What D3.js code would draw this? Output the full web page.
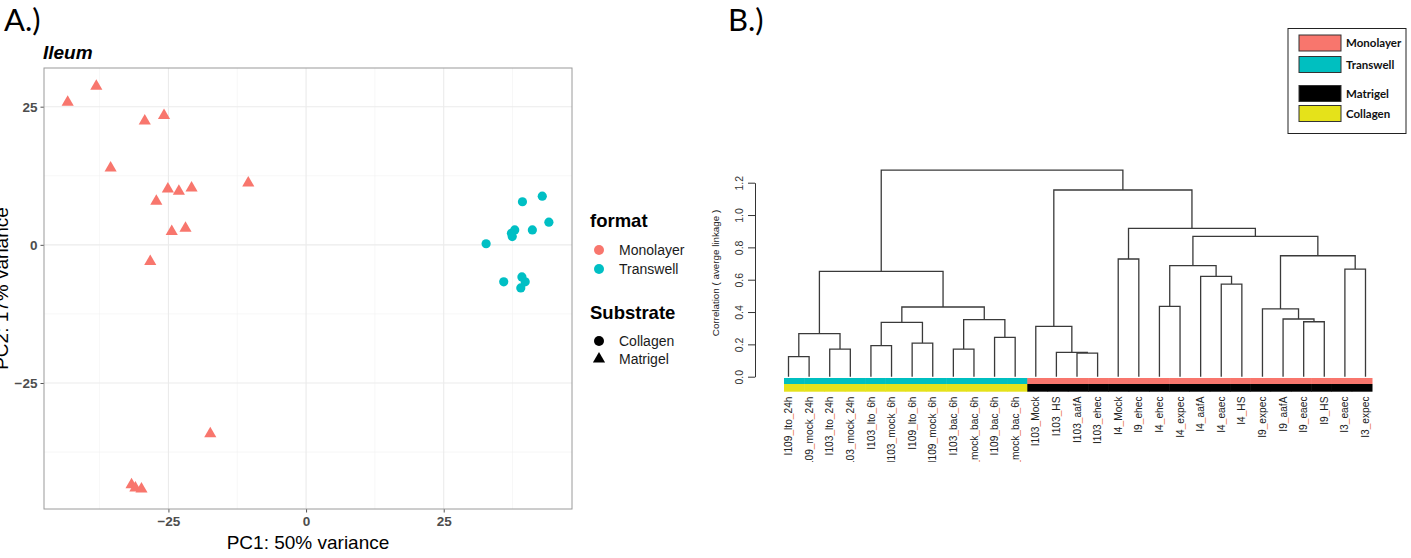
<!DOCTYPE html>
<html>
<head>
<meta charset="utf-8">
<script src="https://cdn.jsdelivr.net/npm/d3@7"></script>
<style>
  body{margin:0;background:#fff;}
  svg{display:block;}
</style>
</head>
<body>
<svg id="chart" width="1411" height="558"></svg>
<script>
// ---- panel A : PCA (ileum) ----
const formats = ['Monolayer', 'Transwell'];
const formatColors = ['#F8766D', '#00BFC4'];
const substrates = ['Collagen', 'Matrigel'];
const pcaTicks = [-25, 0, 25];
const pcaMinorX = [-37.5, -12.5, 12.5, 37.5];
const pcaMinorY = [-37.5, -12.5, 12.5];

// monolayer samples (matrigel -> triangles)
const monoPC1 = [-43.3, -38.1, -29.3, -25.8, -35.5, -25.1, -23.1, -20.8, -10.5, -27.2, -24.4, -21.9, -28.3, -17.4, -31.7, -31.0, -29.9];
const monoPC2 = [25.8, 28.7, 22.4, 23.4, 13.9, 10.1, 9.7, 10.3, 11.2, 7.9, 2.4, 3.0, -3.0, -34.2, -43.4, -44.0, -44.2];
// transwell samples (collagen -> circles)
const transPC1 = [32.7, 37.3, 37.9, 37.45, 39.3, 42.9, 41.1, 44.1, 35.9, 39.2, 39.8, 39.0];
const transPC2 = [0.2, 2.1, 2.7, 1.5, 7.8, 8.8, 2.7, 4.1, -6.7, -5.8, -6.7, -7.8];

// ---- panel B : dendrogram ----
const leafLabels = ['I109_lto_24h', 'I109_mock_24h', 'I103_lto_24h', 'I103_mock_24h', 'I103_lto_6h', 'I103_mock_6h',
  'I109_lto_6h', 'I109_mock_6h', 'I103_bac_6h', 'I103_mock_bac_6h', 'I109_bac_6h', 'I109_mock_bac_6h',
  'I103_Mock', 'I103_HS', 'I103_aafA', 'I103_ehec', 'I4_Mock', 'I9_ehec', 'I4_ehec', 'I4_expec', 'I4_aafA',
  'I4_eaec', 'I4_HS', 'I9_expec', 'I9_aafA', 'I9_eaec', 'I9_HS', 'I3_eaec', 'I3_expec'];
const leafFormat = ['Transwell', 'Transwell', 'Transwell', 'Transwell', 'Transwell', 'Transwell', 'Transwell', 'Transwell',
  'Transwell', 'Transwell', 'Transwell', 'Transwell', 'Monolayer', 'Monolayer', 'Monolayer', 'Monolayer', 'Monolayer',
  'Monolayer', 'Monolayer', 'Monolayer', 'Monolayer', 'Monolayer', 'Monolayer', 'Monolayer', 'Monolayer', 'Monolayer',
  'Monolayer', 'Monolayer', 'Monolayer'];
const leafSubstrate = ['Collagen', 'Collagen', 'Collagen', 'Collagen', 'Collagen', 'Collagen', 'Collagen', 'Collagen',
  'Collagen', 'Collagen', 'Collagen', 'Collagen', 'Matrigel', 'Matrigel', 'Matrigel', 'Matrigel', 'Matrigel', 'Matrigel',
  'Matrigel', 'Matrigel', 'Matrigel', 'Matrigel', 'Matrigel', 'Matrigel', 'Matrigel', 'Matrigel', 'Matrigel', 'Matrigel',
  'Matrigel'];
// hclust-style merges: negative = leaf (1-based), positive = earlier merge step
const merges = [
  [-1, -2, 0.124], [-3, -4, 0.171], [1, 2, 0.266], [-5, -6, 0.192], [-7, -8, 0.208], [4, 5, 0.336],
  [-9, -10, 0.171], [-11, -12, 0.243], [7, 8, 0.353], [6, 9, 0.431], [3, 10, 0.652],
  [-15, -16, 0.146], [-14, 12, 0.151], [-13, 13, 0.311], [-17, -18, 0.728], [-19, -20, 0.435],
  [-22, -23, 0.573], [-21, 17, 0.621], [16, 18, 0.687], [-26, -27, 0.340], [-25, 20, 0.357],
  [-24, 21, 0.419], [-28, -29, 0.666], [22, 23, 0.748], [19, 24, 0.868], [15, 25, 0.918],
  [14, 26, 1.155], [11, 27, 1.278]
];
const corrTicks = [0, 0.2, 0.4, 0.6, 0.8, 1.0, 1.2];
const barColors = {Monolayer: '#F8766D', Transwell: '#00BFC0', Matrigel: '#000000', Collagen: '#E5E21A'};
const legendB = ['Monolayer', 'Transwell', 'Matrigel', 'Collagen'];

const svg = d3.select('#chart');
const sans = 'Liberation Sans, Arial, sans-serif';
const cal = 'Lato, Open Sans, sans-serif';

// =================== PANEL A ===================
svg.append('text').attr('x', 4).attr('y', 31).attr('font-family', cal).attr('font-size', 31).text('A.)');

const xA = d3.scaleLinear().domain([-47.6, 48.3]).range([44, 572]);
const yA = d3.scaleLinear().domain([-47.8, 32.0]).range([509, 68]);
const gA = svg.append('g');

gA.append('rect')
  .attr('x', 44).attr('y', 68).attr('width', 528).attr('height', 441)
  .attr('fill', '#fff');

pcaMinorX.forEach(v => gA.append('line')
  .attr('x1', xA(v)).attr('x2', xA(v)).attr('y1', 68).attr('y2', 509)
  .attr('stroke', '#F2F2F2').attr('stroke-width', 0.6));
pcaMinorY.forEach(v => gA.append('line')
  .attr('y1', yA(v)).attr('y2', yA(v)).attr('x1', 44).attr('x2', 572)
  .attr('stroke', '#F2F2F2').attr('stroke-width', 0.6));
pcaTicks.forEach(v => {
  gA.append('line')
    .attr('x1', xA(v)).attr('x2', xA(v)).attr('y1', 68).attr('y2', 509)
    .attr('stroke', '#EBEBEB').attr('stroke-width', 1.1);
  gA.append('line')
    .attr('y1', yA(v)).attr('y2', yA(v)).attr('x1', 44).attr('x2', 572)
    .attr('stroke', '#EBEBEB').attr('stroke-width', 1.1);
});

const xAxisA = gA.append('g').attr('transform', 'translate(0,509)')
  .call(d3.axisBottom(xA).tickValues(pcaTicks).tickSize(3.5).tickPadding(4));
const yAxisA = gA.append('g').attr('transform', 'translate(44,0)')
  .call(d3.axisLeft(yA).tickValues(pcaTicks).tickSize(3.5).tickPadding(3));
[xAxisA, yAxisA].forEach(ax => {
  ax.select('.domain').remove();
  ax.selectAll('line').attr('stroke', '#555');
  ax.selectAll('text')
    .attr('font-family', sans).attr('font-size', 13.5).attr('font-weight', 'bold')
    .attr('fill', '#4D4D4D');
});

gA.append('rect')
  .attr('x', 44).attr('y', 68).attr('width', 528).attr('height', 441)
  .attr('fill', 'none').attr('stroke', '#9a9a9a').attr('stroke-width', 1);

const triangle = d3.symbol().type(d3.symbolTriangle).size(64);
gA.selectAll('.mono')
  .data(monoPC1.map((d, i) => ({x: d, y: monoPC2[i]})))
  .enter()
  .append('path')
  .attr('class', 'mono')
  .attr('d', triangle)
  .attr('transform', d => `translate(${xA(d.x)},${yA(d.y)})`)
  .attr('fill', formatColors[0]);
gA.selectAll('.trans')
  .data(transPC1.map((d, i) => ({x: d, y: transPC2[i]})))
  .enter()
  .append('circle')
  .attr('class', 'trans')
  .attr('r', 4.6)
  .attr('cx', d => xA(d.x))
  .attr('cy', d => yA(d.y))
  .attr('fill', formatColors[1]);

gA.append('text')
  .attr('x', 43).attr('y', 59)
  .attr('font-family', sans).attr('font-size', 19).attr('font-weight', 'bold').attr('font-style', 'italic')
  .text('Ileum');
gA.append('text')
  .attr('x', 308).attr('y', 549).attr('text-anchor', 'middle')
  .attr('font-family', sans).attr('font-size', 19)
  .text('PC1: 50% variance');
// y title runs off the left edge in the original figure as well
gA.append('text')
  .attr('transform', 'translate(8,288.5) rotate(-90)').attr('text-anchor', 'middle')
  .attr('font-family', sans).attr('font-size', 19)
  .text('PC2: 17% variance');

// legend A
const legA = svg.append('g').attr('font-family', sans);
legA.append('text').attr('x', 590).attr('y', 227).attr('font-size', 18.5).attr('font-weight', 'bold').text('format');
formats.forEach((f, i) => {
  legA.append('circle').attr('cx', 599).attr('cy', 250 + i * 19).attr('r', 5).attr('fill', formatColors[i]);
  legA.append('text').attr('x', 619).attr('y', 255 + i * 19).attr('font-size', 14).attr('fill', '#1a1a1a').text(f);
});
legA.append('text').attr('x', 590).attr('y', 319).attr('font-size', 18.5).attr('font-weight', 'bold').text('Substrate');
substrates.forEach((s, i) => {
  const cy = 341 + i * 18;
  if (s === 'Collagen') {
    legA.append('circle').attr('cx', 599).attr('cy', cy).attr('r', 5).attr('fill', '#000');
  } else {
    legA.append('path').attr('d', triangle).attr('transform', `translate(599,${cy})`).attr('fill', '#000');
  }
  legA.append('text').attr('x', 619).attr('y', cy + 5).attr('font-size', 14).attr('fill', '#1a1a1a').text(s);
});

// =================== PANEL B ===================
svg.append('text').attr('x', 728).attr('y', 31).attr('font-family', cal).attr('font-size', 31).text('B.)');

const xLeaf = d3.scaleLinear().domain([1, leafLabels.length]).range([788.5, 1365.5]);
const yCorr = d3.scaleLinear().domain([0, 1.2]).range([376.7, 182.7]);
const xBar = d3.scaleBand().domain(d3.range(leafLabels.length)).range([784, 1372]);
const gB = svg.append('g');

// node positions (midpoint style)
const nodes = [];
function pos(ref){
  if (ref < 0) return {x: xLeaf(-ref), h: 0};
  return nodes[ref - 1];
}
merges.forEach(m => {
  const a = pos(m[0]), b = pos(m[1]);
  nodes.push({x: (a.x + b.x) / 2, h: m[2], a: a, b: b});
});
gB.selectAll('.branch')
  .data(nodes)
  .enter()
  .append('path')
  .attr('class', 'branch')
  .attr('d', d => `M${d.a.x},${yCorr(d.a.h)}V${yCorr(d.h)}H${d.b.x}V${yCorr(d.b.h)}`)
  .attr('fill', 'none')
  .attr('stroke', '#3a3a3a')
  .attr('stroke-width', 1.3);

const yAxisB = gB.append('g').attr('transform', 'translate(755,0)')
  .call(d3.axisLeft(yCorr).tickValues(corrTicks).tickFormat(d3.format('.1f')).tickSize(7).tickSizeOuter(0));
yAxisB.select('.domain').attr('stroke', '#333');
yAxisB.selectAll('line').attr('stroke', '#333');
yAxisB.selectAll('text')
  .attr('x', null).attr('dy', null)
  .attr('transform', 'translate(-12,0) rotate(-90)')
  .attr('text-anchor', 'middle')
  .attr('font-family', sans).attr('font-size', 10.5).attr('fill', '#333');
gB.append('text')
  .attr('transform', 'translate(719,273) rotate(-90)').attr('text-anchor', 'middle')
  .attr('font-family', sans).attr('font-size', 9.8).attr('fill', '#222')
  .text('Correlation ( averge linkage )');

// colour bars
gB.selectAll('.barF')
  .data(leafFormat)
  .enter()
  .append('rect')
  .attr('class', 'barF')
  .attr('x', (d, i) => xBar(i)).attr('width', xBar.bandwidth() + 0.5)
  .attr('y', 378).attr('height', 6)
  .attr('fill', d => barColors[d]);
gB.selectAll('.barS')
  .data(leafSubstrate)
  .enter()
  .append('rect')
  .attr('class', 'barS')
  .attr('x', (d, i) => xBar(i)).attr('width', xBar.bandwidth() + 0.5)
  .attr('y', 384).attr('height', 7.7)
  .attr('fill', d => barColors[d]);

// leaf labels (clipped at the bottom as in the figure)
svg.append('defs').append('clipPath').attr('id', 'leafClip')
  .append('rect').attr('x', 770).attr('y', 392).attr('width', 620).attr('height', 70);
const labG = gB.append('g').attr('clip-path', 'url(#leafClip)');
leafLabels.forEach((lab, i) => {
  const t = labG.append('text')
    .attr('transform', `translate(${xLeaf(i + 1)},396.5) rotate(-90)`)
    .attr('text-anchor', 'end').attr('dy', '0.35em')
    .attr('font-family', sans).attr('font-size', 10.2).attr('fill', '#222');
  lab.split('_').forEach((part, k) => {
    if (k > 0) t.append('tspan').attr('fill', '#E9724C').text('_');
    t.append('tspan').text(part);
  });
});

// legend B
const legB = svg.append('g');
legB.append('rect').attr('x', 1288).attr('y', 28.5).attr('width', 118).attr('height', 105)
  .attr('fill', '#fff').attr('stroke', '#222').attr('stroke-width', 1);
const legBy = [35, 56.5, 85.5, 105.5];
legendB.forEach((k, i) => {
  legB.append('rect').attr('x', 1299).attr('y', legBy[i]).attr('width', 42).attr('height', 16)
    .attr('fill', barColors[k]).attr('stroke', '#333').attr('stroke-width', 1);
  legB.append('text').attr('x', 1346).attr('y', legBy[i] + 12)
    .attr('font-family', cal).attr('font-size', 11.5).attr('font-weight', 'bold').attr('fill', '#111')
    .text(k);
});
</script>
</body>
</html>
